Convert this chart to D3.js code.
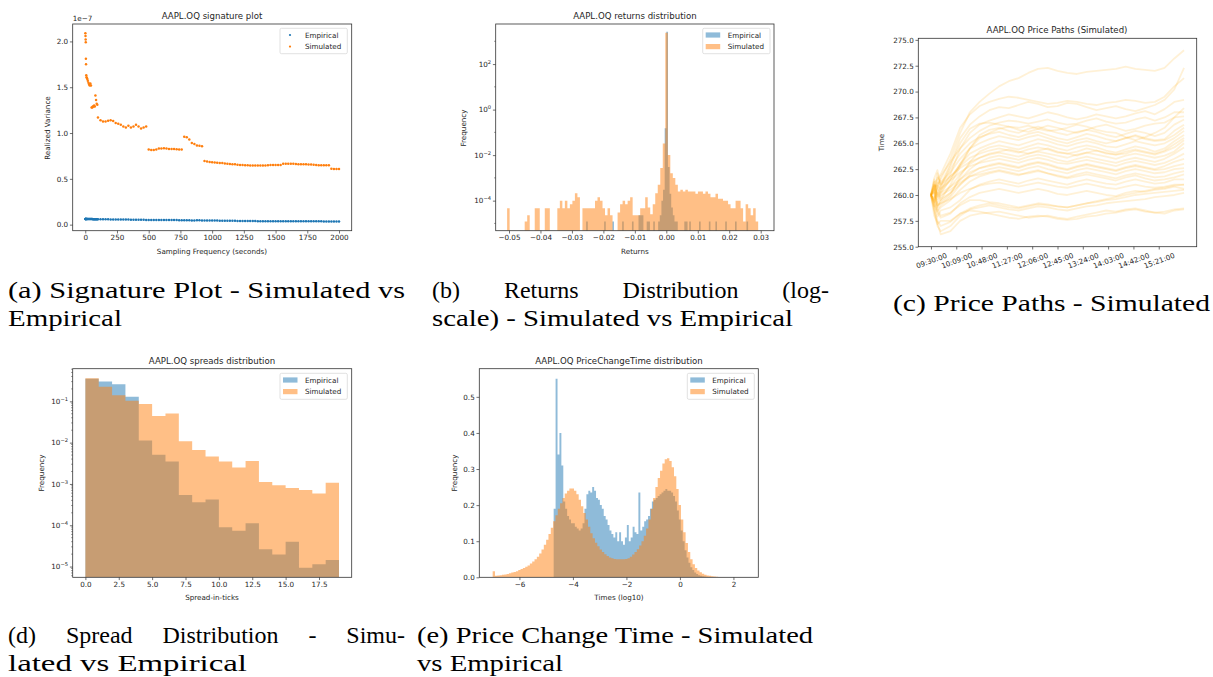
<!DOCTYPE html>
<meta charset="utf-8">
<style>
  body { margin: 0; background: white; }
  svg text.sans { font-family: "DejaVu Sans", sans-serif; }
  svg text.cap { font-family: "Liberation Serif", "Tinos", "Times New Roman", Times, serif; }
</style>
<body>
<script src="https://cdn.jsdelivr.net/npm/d3@7"></script>
<script>
// ---------- data ----------
// (a) signature plot, realized variance in units of 1e-7
const sigX = [1,2,3,4,5,6,8,10,13,16,20,25,30,35,40,45,50,55,60,65,70,75,80,85,90,95,100,
  120,140,160,180,200,220,240,260,280,300,320,340,360,380,400,420,440,460,480,
  500,520,540,560,580,600,620,640,660,680,700,720,740,760,
  780,800,820,840,860,880,900,920,
  940,960,980,1000,1020,1040,1060,1080,1100,1120,1140,1160,1180,1200,1220,1240,1260,1280,1300,1320,1340,1360,1380,1400,1420,1440,1460,1480,1500,1520,1540,
  1560,1580,1600,1620,1640,1660,1680,1700,1720,1740,1760,1780,1800,1820,1840,1860,1880,1900,1920,
  1940,1960,1980,2000];
const sigSim = [2.09,2.06,2.02,1.99,1.81,1.75,1.63,1.61,1.60,1.59,1.57,1.55,1.53,1.52,1.54,1.52,1.28,1.28,1.29,1.29,1.30,1.29,1.41,1.36,1.32,1.31,1.17,
  1.14,1.125,1.125,1.135,1.14,1.13,1.11,1.10,1.09,1.07,1.06,1.08,1.06,1.07,1.09,1.07,1.05,1.06,1.07,
  0.82,0.815,0.815,0.82,0.83,0.83,0.835,0.83,0.825,0.825,0.825,0.822,0.82,0.82,
  0.96,0.955,0.93,0.89,0.88,0.865,0.86,0.855,
  0.695,0.69,0.685,0.68,0.678,0.676,0.674,0.672,0.668,0.665,0.662,0.66,0.658,0.655,0.652,0.65,0.648,0.647,0.646,0.645,0.645,0.645,0.645,0.646,0.646,0.648,0.65,0.652,0.652,0.652,0.652,
  0.664,0.666,0.665,0.665,0.664,0.662,0.66,0.66,0.658,0.658,0.657,0.656,0.655,0.65,0.648,0.648,0.648,0.647,0.647,
  0.61,0.608,0.607,0.607];
const sigEmp = [0.063,0.063,0.062,0.062,0.062,0.062,0.062,0.062,0.062,0.062,0.062,0.061,0.061,0.061,0.061,0.061,0.061,0.061,0.060,0.060,0.060,0.060,0.060,0.060,0.060,0.060,0.060,
  0.059,0.059,0.058,0.058,0.057,0.057,0.056,0.056,0.056,0.055,0.055,0.055,0.054,0.054,0.054,0.054,0.053,0.053,0.052,
  0.052,0.051,0.051,0.052,0.052,0.051,0.051,0.052,0.051,0.050,0.050,0.050,0.049,0.049,
  0.048,0.048,0.047,0.046,0.046,0.047,0.047,0.046,
  0.046,0.046,0.045,0.044,0.044,0.044,0.043,0.043,0.043,0.042,0.042,0.042,0.042,0.041,0.041,0.041,0.041,0.040,0.040,0.040,0.039,0.038,0.037,0.037,0.037,0.038,0.038,0.038,0.038,0.038,0.038,
  0.036,0.036,0.036,0.036,0.036,0.036,0.036,0.036,0.036,0.036,0.036,0.036,0.036,0.036,0.036,0.036,0.035,0.035,0.035,
  0.035,0.035,0.035,0.035];
const sigTicksX = [0,250,500,750,1000,1250,1500,1750,2000];
const sigTicksY = [0,0.5,1,1.5,2];

// (b) returns distribution, density per bin (log scale)
const retSimStart = -0.0506, retSimWidth = 0.000798;
const retSim = [4.6e-5,0,0,0,0,0,0,1.2e-5,2.3e-5,0,
  0,4.6e-5,4.6e-5,0,0,4.6e-5,4.6e-5,0,0,0,
  4.6e-5,1e-4,4.6e-5,1e-4,4.6e-5,7e-5,1e-4,2.1e-4,1.4e-4,0,
  4.6e-5,4.6e-5,4.6e-5,4.6e-5,4.6e-5,1e-4,1.4e-4,1e-4,4.6e-5,2.3e-5,
  4.6e-5,2.3e-5,0,0,3e-5,7e-5,1e-4,7e-5,1e-4,1.4e-4,
  2.3e-5,2.3e-5,2.3e-5,4.6e-5,4.6e-5,1.4e-4,5e-5,2.5e-5,7e-5,2.1e-4,
  5e-4,2.7e-3,0.032,2400,0.01,1.6e-3,1e-3,5e-4,2.5e-4,3e-4,
  2.5e-4,3e-4,2.5e-4,2.5e-4,2.5e-4,2e-4,2.5e-4,2.5e-4,2e-4,2.5e-4,
  2e-4,1.4e-4,1.4e-4,2e-4,1.2e-4,1.2e-4,1e-4,1e-4,7e-5,4.6e-5,
  4.6e-5,1e-4,1e-4,4.6e-5,1.2e-5,7e-5,4.6e-5,2.3e-5,4.6e-5,1.2e-5];
const retEmpStart = -0.026, retEmpWidth = 0.00052;
const retEmp = [0,1.2e-5,0,0,0,0,0,0,0,0,
  0,0,1.2e-5,0,0,0,0,1.2e-5,0,0,
  0,0,0,1.2e-5,0,0,0,0,0,1.2e-5,
  0,0,0,2.3e-5,2.3e-5,2.3e-5,0,0,1.2e-5,1.2e-5,
  0,0,1.2e-5,0,0,1.2e-5,2.3e-5,1e-4,3e-4,0.15,
  2600,3e-3,2e-4,5e-5,2.3e-5,1.2e-5,1.2e-5,0,0,0,
  0,1.2e-5,1.2e-5,0,1.2e-5,0,0,0,0,0,
  1.2e-5,0,0,0,0,0,1.2e-5,0,0,0,
  1.2e-5,0,0,0,0,0,1.2e-5,0,0,0,
  0,0,1.2e-5,0,0,0,0,0,0,1.2e-5];
const retTicksX = [-0.05,-0.04,-0.03,-0.02,-0.01,0,0.01,0.02,0.03];
const retTicksY = [1e-4,1e-2,1,1e2];

// (c) simulated price paths, minutes after 09:30
const pathTimes = [0,5,10,15,30,45,60,75,90,105,120,135,150,165,180,195,210,225,240,255,270,285,300,315,330,345,360,375,390];
const pricePaths = [
  [260,260.8,261.0,261.5,263.5,266,268,269,269.8,270.5,271,271.3,271.8,272.2,272.3,272,271.8,271.7,271.9,272,272.1,272.2,272.4,272.2,272.1,272,272.3,273.2,274],
  [260,261.2,261.5,262,264,266.5,267.8,268.6,269,269.3,269.5,269.4,269.2,269,268.8,268.9,269.1,269,268.8,268.7,268.9,269,269.2,269.1,268.9,269,269.5,270.5,271.3],
  [260,260.5,261.3,261,263,265.5,266.8,267.6,268.2,268.5,268.4,268.7,269,268.8,268.5,268.6,268.9,268.8,268.5,268.2,268.4,268.6,268.3,268.1,268.4,268.7,269.2,270.2,272.3],
  [260,259.6,260.9,260.5,262,264.5,266,266.8,267.2,267.5,267.8,267.6,267.4,267.7,268,267.8,267.5,267.3,267.5,267.8,267.6,267.4,267.6,267.9,268.1,267.8,268.3,269,269.2],
  [260,261.0,260.7,261.8,263.2,264.5,265.5,266.2,266.7,267,267.2,267.1,266.9,267.1,267.3,267,266.8,266.9,267.2,267.4,267.1,266.9,267,267.3,267.5,267.2,267.5,268,268],
  [260,260.9,259.8,260.3,261.5,263,264.5,265.5,266,266.4,266.6,266.3,266.1,266.4,266.7,266.5,266.2,266,266.3,266.6,266.8,266.5,266.2,266.4,266.7,266.9,267,267.5,267.6],
  [260,259.3,260.2,259.5,261,262.8,264.5,265.8,266.3,266.5,266.2,266,266.4,266.6,266.3,266,265.8,266.1,266.3,266.1,265.8,265.6,265.9,266.2,266,265.7,266,266.8,267.3],
  [260,261.3,260.1,260.8,262.5,264,265,265.6,265.9,266.1,265.8,265.6,265.9,266.1,265.8,265.5,265.3,265.6,265.9,265.7,265.4,265.2,265.5,265.8,265.5,265.3,265.4,266.2,266.8],
  [260,260.2,261.7,261.2,262.2,263.5,264.5,265,265.4,265.7,265.5,265.3,265.6,265.8,265.5,265.2,265,265.3,265.5,265.2,265,265.2,265.5,265.7,265.4,265.2,265.3,265.8,266.5],
  [260,259.5,260.8,260.2,261.5,263,264,264.5,264.9,265.2,265,264.8,265.1,265.4,265.2,264.9,264.7,265,265.2,265,264.7,264.6,264.9,265.2,265,264.8,265,265.5,266.2],
  [260,260.4,259.0,259.2,260,261.8,263.2,264.2,264.6,264.8,264.6,264.4,264.7,265,264.8,264.5,264.3,264.6,264.8,264.6,264.3,264.1,264.4,264.7,264.5,264.2,264.5,265.2,265.8],
  [260,261.0,259.9,260.5,261.8,262.8,263.6,264,264.3,264.5,264.3,264.1,264.4,264.6,264.4,264.1,264,264.2,264.5,264.3,264,263.9,264.2,264.4,264.2,264,264.3,264.9,265.5],
  [260,258.9,260.6,259.8,260.8,262,263,263.6,264,264.2,264.4,264.2,264,264.3,264.5,264.2,264,263.8,264.1,264.3,264.1,263.9,264,264.3,264.1,263.9,264.2,264.6,265.3],
  [260,260.3,262.1,261,261.8,262.6,263.2,263.6,263.9,264.1,263.9,263.7,264,264.2,264,263.8,263.6,263.9,264.1,263.9,263.7,263.5,263.8,264,263.8,263.6,263.8,264.2,265],
  [260,260.6,258.8,259.4,260.2,261.5,262.5,263.2,263.6,263.8,263.6,263.4,263.7,263.9,263.7,263.4,263.2,263.5,263.7,263.5,263.3,263.1,263.4,263.6,263.4,263.2,263.5,264,264.6],
  [260,259.4,261.2,260.6,261.4,262.2,262.8,263.1,263.3,263.5,263.3,263.1,263.4,263.6,263.4,263.1,263,263.2,263.4,263.2,263,262.8,263.1,263.3,263.1,262.9,263.1,263.5,264],
  [260,259.8,258.6,259,259.8,261,262,262.6,262.9,263.1,262.9,262.7,263,263.2,263,262.7,262.5,262.8,263,262.8,262.6,262.4,262.7,262.9,262.7,262.5,262.8,263.2,263.5],
  [260,261.5,259.6,260.2,260.8,261.5,262.2,262.6,262.8,263,262.8,262.6,262.9,263.1,262.9,262.6,262.4,262.7,262.9,262.7,262.5,262.3,262.6,262.8,262.6,262.4,262.5,262.8,263],
  [260,260.5,258.9,259.6,260.2,261,261.8,262.2,262.5,262.7,262.5,262.3,262.6,262.8,262.5,262.3,262.1,262.4,262.6,262.4,262.2,262,262.3,262.5,262.3,262.1,262.2,262.5,262.6],
  [260,259.2,258.4,258.8,259.5,260.5,261.3,261.8,262.1,262.3,262.1,261.9,262.2,262.4,262.1,261.9,261.7,262,262.2,262,261.8,261.6,261.9,262.1,261.9,261.7,261.8,262.1,262.3],
  [260,260.9,259.3,260,260.5,261.2,261.8,262,262.2,262.4,262.2,262,262.1,262.3,262.1,261.8,261.6,261.8,262,261.8,261.6,261.4,261.7,261.9,261.6,261.4,261.5,261.7,262],
  [260,259.3,257.9,258.5,258.8,259.5,260.5,261,261.3,261.5,261.3,261.1,261.4,261.6,261.4,261.2,261,261.3,261.5,261.3,261.1,261,261.3,261.5,261.3,261.1,261.2,261.5,261.5],
  [260,260.2,259.0,259.2,259.6,260.2,260.6,260.9,261.1,261.2,261,260.8,261,261.2,261,260.8,260.7,260.9,261.1,260.9,260.7,260.6,260.8,261,260.8,260.7,260.8,261,261],
  [260,259.0,258.3,257.8,258.2,259.2,259.8,260.2,260.4,260.6,260.4,260.2,260.4,260.6,260.4,260.1,260,260.2,260.4,260.2,260,259.9,260.2,260.4,260.3,260.5,260.6,260.8,260.6],
  [260,258.6,257.2,257.5,257.5,258.2,258.7,259,259.2,259,258.8,258.7,258.9,259.1,259,258.9,258.8,259,259.2,259.3,259.5,259.6,259.8,260,260.1,260.2,260.3,260.4,260.5],
  [260,258.4,257.0,256.5,257,258,258.6,258.8,259,258.8,258.6,258.5,258.7,258.9,258.8,258.6,258.5,258.7,258.9,259,259.2,259.3,259.4,259.5,259.6,259.8,259.9,260,260.2],
  [260,258.0,257.3,256.2,256.5,257.5,258,258.2,258.3,258.4,258.2,258,257.8,257.9,258,257.8,257.7,257.9,258.1,258.3,258.5,258.4,258.6,258.7,258.5,258.3,258.4,258.6,258.7],
  [260,258.7,257.5,257,257.4,258.2,258.5,258.4,258.2,258,257.8,257.7,257.9,258,257.9,257.7,257.6,257.7,257.9,258,258.2,258.3,258.5,258.6,258.4,258.3,258.2,258.5,258.6],
  [260,259.5,258.6,258,258.3,259,259.5,259.5,259.3,259.2,259,258.8,259,259.2,259.1,258.9,258.8,259,259.2,259.4,259.6,259.8,260,260.2,260.4,260.6,260.7,260.9,261],
  [260,261.6,262.4,260.8,262.8,265,266.4,266.9,267,266.8,266.6,266.5,266.7,266.4,266.2,266.3,266.5,266.8,266.6,266.3,266.1,266,265.6,265.3,265.6,266,266.5,267.5,268.4]
];
const pathTickMinutes = [0,39,78,117,156,195,234,273,312,351];
const pathTickLabels = ['09:30:00','10:09:00','10:48:00','11:27:00','12:06:00','12:45:00','13:24:00','14:03:00','14:42:00','15:21:00'];
const pathTicksY = [255,257.5,260,262.5,265,267.5,270,272.5,275];

// (d) spread distribution, bins of one tick from 0 to 19
const spreadEdges0 = 0, spreadWidth = 1;
const spreadEmp = [0.35,0.30,0.26,0.13,0.0112,0.0051,0.0035,0.00054,0.00036,0.00042,0.000089,0.000074,0.000112,0.0000263,0.0000195,0.00004,0.0000093,0.0000113,0.0000145];
const spreadSim = [0.36,0.226,0.14,0.104,0.086,0.044,0.051,0.0108,0.0066,0.0046,0.0035,0.0025,0.0036,0.00112,0.00093,0.0008,0.00071,0.00059,0.00107];
const spreadTicksX = [0,2.5,5,7.5,10,12.5,15,17.5];
const spreadTicksY = [1e-5,1e-4,1e-3,1e-2,1e-1];

// (e) price change time distribution (log10 seconds)
const pctSimStart = -7.0, pctSimWidth = 0.0869;
const pctSim = [0.017,0.004,0.005,0.006,0.007,0.008,0.009,0.011,0.013,0.015,
  0.017,0.020,0.023,0.026,0.029,0.033,0.038,0.044,0.05,0.057,
  0.066,0.077,0.09,0.104,0.12,0.137,0.155,0.172,0.19,0.205,
  0.22,0.232,0.24,0.246,0.246,0.24,0.23,0.215,0.197,0.178,
  0.16,0.14,0.122,0.108,0.096,0.086,0.077,0.07,0.064,0.059,
  0.055,0.053,0.051,0.05,0.05,0.05,0.05,0.051,0.053,0.057,
  0.063,0.07,0.078,0.088,0.1,0.115,0.135,0.16,0.19,0.22,
  0.25,0.275,0.295,0.315,0.327,0.33,0.322,0.305,0.28,0.245,
  0.2,0.16,0.125,0.095,0.07,0.05,0.036,0.026,0.019,0.014,
  0.01,0.007,0.005,0.004,0.003,0.002,0.0015,0.001,0.0008,0.0005];
const pctEmpStart = -4.72, pctEmpWidth = 0.072;
const pctEmp = [0.19,0.55,0.34,0.40,0.31,0.21,0.19,0.17,0.16,0.15,
  0.15,0.14,0.135,0.13,0.135,0.15,0.19,0.23,0.24,0.235,
  0.25,0.24,0.22,0.215,0.2,0.19,0.17,0.16,0.145,0.13,
  0.12,0.11,0.125,0.10,0.125,0.10,0.09,0.11,0.145,0.10,
  0.11,0.14,0.125,0.12,0.235,0.13,0.14,0.155,0.16,0.17,
  0.19,0.21,0.215,0.22,0.225,0.23,0.235,0.24,0.245,0.24,
  0.24,0.235,0.225,0.21,0.185,0.16,0.13,0.10,0.075,0.055,
  0.04,0.028,0.02,0.013,0.009,0.006,0.004,0.003,0.002,0.0015,
  0.001,0.0008,0.0006,0.0005,0.0004,0.0003,0.0002,0.0002,0.0001,0.0001,
  0,0,0,0,0,0,0,0,0,0.0001];
const pctTicksX = [-6,-4,-2,0,2];
const pctTicksY = [0,0.1,0.2,0.3,0.4,0.5];

// ---------- drawing ----------
const W = 1213, H = 677;
const BLUE = '#1f77b4', ORANGE = '#ff7f0e';
const TXT = '#262626';
const svg = d3.select('body').append('svg').attr('width', W).attr('height', H).style('display', 'block');
svg.append('rect').attr('width', W).attr('height', H).attr('fill', 'white');

let clipCount = 0;
function makePanel(box) {
  const id = 'clip' + clipCount++;
  svg.append('clipPath').attr('id', id).append('rect')
    .attr('x', box.l).attr('y', box.t).attr('width', box.r - box.l).attr('height', box.b - box.t);
  const g = svg.append('g');
  const plot = g.append('g').attr('clip-path', `url(#${id})`);
  return {g, plot};
}
function frame(g, box) {
  g.append('rect').attr('x', box.l).attr('y', box.t)
    .attr('width', box.r - box.l).attr('height', box.b - box.t)
    .attr('fill', 'none').attr('stroke', '#333').attr('stroke-width', 0.8);
}
function styleAxis(ax) {
  ax.attr('font-family', null).attr('font-size', null);
  ax.select('.domain').remove();
  ax.selectAll('.tick line').attr('stroke', '#333').attr('stroke-width', 0.7);
  ax.selectAll('.tick text').attr('class', 'sans').attr('fill', TXT).style('font-size', '7.2px');
}
function bottomAxis(g, x, y0, ticks, fmt) {
  const ax = g.append('g').attr('transform', `translate(0,${y0})`)
    .call(d3.axisBottom(x).tickValues(ticks).tickFormat(fmt).tickSize(2.8).tickPadding(1.8));
  styleAxis(ax);
  return ax;
}
function leftAxis(g, y, x0, ticks, fmt) {
  const ax = g.append('g').attr('transform', `translate(${x0},0)`)
    .call(d3.axisLeft(y).tickValues(ticks).tickFormat(fmt).tickSize(2.8).tickPadding(1.8));
  styleAxis(ax);
  return ax;
}
function minorTicks(g, y, x0, vals) {
  g.selectAll(null).data(vals).enter().append('line')
    .attr('x1', x0).attr('x2', x0 - 1.6).attr('y1', d => y(d)).attr('y2', d => y(d))
    .attr('stroke', '#333').attr('stroke-width', 0.5);
}
function powLabels(ax) {
  ax.selectAll('.tick text').each(function(d) {
    const e = Math.round(Math.log10(d));
    const t = d3.select(this).text('10');
    t.append('tspan').attr('dy', -3.2).style('font-size', '5.2px').text(e < 0 ? '\u2212' + (-e) : String(e));
  });
}
function sansText(g) {
  return g.append('text').attr('class', 'sans').attr('fill', TXT);
}
function title(g, x, y, s) {
  sansText(g).attr('x', x).attr('y', y).attr('text-anchor', 'middle').style('font-size', '8.6px').text(s);
}
function xlabel(g, x, y, s) {
  sansText(g).attr('x', x).attr('y', y).attr('text-anchor', 'middle').style('font-size', '7.2px').text(s);
}
function ylabel(g, x, y, s) {
  sansText(g).attr('transform', `translate(${x},${y}) rotate(-90)`)
    .attr('text-anchor', 'middle').attr('dominant-baseline', 'central')
    .style('font-size', '7.2px').text(s);
}
function histPath(plot, x, y, start, width, values, color) {
  const base = y.range()[0];
  let d = '';
  values.forEach((v, i) => {
    if (v <= 0) return;
    const x0 = x(start + i * width), x1 = x(start + (i + 1) * width);
    d += `M${x0},${base}V${y(v)}H${x1}V${base}Z`;
  });
  plot.append('path').attr('d', d).attr('fill', color).attr('fill-opacity', 0.5);
}
function legend(g, bx, by, bw, bh, kind) {
  g.append('rect').attr('x', bx).attr('y', by).attr('width', bw).attr('height', bh).attr('rx', 1.5)
    .attr('fill', 'white').attr('fill-opacity', 0.8).attr('stroke', '#d4d4d4').attr('stroke-width', 0.7);
  [['Empirical', BLUE], ['Simulated', ORANGE]].forEach(([name, c], i) => {
    const cy = by + 6.7 + i * 11.6;
    if (kind === 'dot') {
      g.append('circle').attr('cx', bx + 10).attr('cy', cy).attr('r', 1.1).attr('fill', c);
    } else {
      g.append('rect').attr('x', bx + 3).attr('y', cy - 2.6).attr('width', 14.5).attr('height', 5.2)
        .attr('fill', c).attr('fill-opacity', 0.5);
    }
    sansText(g).attr('x', bx + 25).attr('y', cy).attr('dominant-baseline', 'central')
      .style('font-size', '7.2px').text(name);
  });
}

// ---- (a) signature plot ----
{
  const box = {l: 72.7, r: 351.7, t: 24, b: 230.7};
  const {g, plot} = makePanel(box);
  const x = d3.scaleLinear().domain([-99, 2100]).range([box.l, box.r]);
  const y = d3.scaleLinear().domain([-0.066, 2.19]).range([box.b, box.t]);
  plot.selectAll(null).data(sigX).enter().append('circle')
    .attr('cx', d => x(d)).attr('cy', (d, i) => y(sigEmp[i])).attr('r', 1.25).attr('fill', BLUE);
  plot.selectAll(null).data(sigX).enter().append('circle')
    .attr('cx', d => x(d)).attr('cy', (d, i) => y(sigSim[i])).attr('r', 1.25).attr('fill', ORANGE);
  frame(g, box);
  bottomAxis(g, x, box.b, sigTicksX, d3.format('d'));
  leftAxis(g, y, box.l, sigTicksY, d3.format('.1f'));
  sansText(g).attr('x', box.l).attr('y', 21).style('font-size', '7.2px').text('1e\u22127');
  title(g, 212, 18.8, 'AAPL.OQ signature plot');
  xlabel(g, 212, 253.6, 'Sampling Frequency (seconds)');
  ylabel(g, 47.7, 128, 'Realized Variance');
  legend(g, 280, 28.3, 67.3, 25.4, 'dot');
}

// ---- (b) returns distribution ----
{
  const box = {l: 495.7, r: 774, t: 24, b: 230.7};
  const {g, plot} = makePanel(box);
  const x = d3.scaleLinear().domain([-0.05423, 0.03423]).range([box.l, box.r]);
  const y = d3.scaleLog().domain([Math.pow(10, -5.32), Math.pow(10, 3.76)]).range([box.b, box.t]);
  histPath(plot, x, y, retEmpStart, retEmpWidth, retEmp, BLUE);
  histPath(plot, x, y, retSimStart, retSimWidth, retSim, ORANGE);
  frame(g, box);
  bottomAxis(g, x, box.b, retTicksX, d3.format('.2f'));
  powLabels(leftAxis(g, y, box.l, retTicksY, d => d));
  minorTicks(g, y, box.l, [1e-5, 1e-3, 1e-1, 1e1, 1e3]);
  title(g, 634.9, 18.8, 'AAPL.OQ returns distribution');
  xlabel(g, 634.9, 253.6, 'Returns');
  ylabel(g, 463.3, 128, 'Frequency');
  legend(g, 702.7, 28.3, 67.3, 25.4, 'patch');
}

// ---- (c) price paths ----
{
  const box = {l: 918.3, r: 1196.7, t: 38.3, b: 246.7};
  const {g, plot} = makePanel(box);
  const x = d3.scaleLinear().domain([-19.5, 409.5]).range([box.l, box.r]);
  const y = d3.scaleLinear().domain([255.0, 275.15]).range([box.b, box.t]);
  const line = d3.line().x((d, i) => x(pathTimes[i])).y(d => y(d));
  plot.selectAll(null).data(pricePaths).enter().append('path')
    .attr('d', line).attr('fill', 'none').attr('stroke', 'orange')
    .attr('stroke-opacity', 0.16).attr('stroke-width', 1.8).attr('stroke-linejoin', 'round');
  frame(g, box);
  const ax = bottomAxis(g, x, box.b, pathTickMinutes, (d, i) => pathTickLabels[i]);
  ax.selectAll('.tick text')
    .attr('y', null).attr('dy', null)
    .attr('text-anchor', 'middle').attr('dominant-baseline', 'central')
    .attr('transform', 'translate(0,14) rotate(-20)');
  leftAxis(g, y, box.l, pathTicksY, d3.format('.1f'));
  title(g, 1057, 33, 'AAPL.OQ Price Paths (Simulated)');
  ylabel(g, 881.7, 142.5, 'Time');
  svg.append('clipPath').attr('id', 'clipPrice').append('rect').attr('x', 900).attr('y', 0).attr('width', 313).attr('height', 275.5);
  sansText(g).attr('clip-path', 'url(#clipPrice)').attr('x', 1057).attr('y', 281.5)
    .attr('text-anchor', 'middle').style('font-size', '7.2px').text('Price');
}

// ---- (d) spread distribution ----
{
  const box = {l: 72.7, r: 351.7, t: 368.7, b: 577.3};
  const {g, plot} = makePanel(box);
  const x = d3.scaleLinear().domain([-0.95, 19.95]).range([box.l, box.r]);
  const y = d3.scaleLog().domain([Math.pow(10, -5.26), Math.pow(10, -0.21)]).range([box.b, box.t]);
  histPath(plot, x, y, spreadEdges0, spreadWidth, spreadEmp, BLUE);
  histPath(plot, x, y, spreadEdges0, spreadWidth, spreadSim, ORANGE);
  frame(g, box);
  bottomAxis(g, x, box.b, spreadTicksX, d3.format('.1f'));
  powLabels(leftAxis(g, y, box.l, spreadTicksY, d => d));
  const minors = [];
  [-6, -5, -4, -3, -2, -1].forEach(k => { for (let m = 2; m <= 9; m++) minors.push(m * Math.pow(10, k)); });
  minorTicks(g, y, box.l, minors.filter(v => v >= y.domain()[0] && v <= y.domain()[1]));
  title(g, 212, 364, 'AAPL.OQ spreads distribution');
  xlabel(g, 212, 600, 'Spread-in-ticks');
  ylabel(g, 41.7, 473, 'Frequency');
  legend(g, 280, 373.3, 67.3, 26, 'patch');
}

// ---- (e) price change time distribution ----
{
  const box = {l: 479.3, r: 758.3, t: 368.7, b: 577.3};
  const {g, plot} = makePanel(box);
  const x = d3.scaleLinear().domain([-7.5, 2.93]).range([box.l, box.r]);
  const y = d3.scaleLinear().domain([0, 0.578]).range([box.b, box.t]);
  histPath(plot, x, y, pctEmpStart, pctEmpWidth, pctEmp, BLUE);
  histPath(plot, x, y, pctSimStart, pctSimWidth, pctSim, ORANGE);
  frame(g, box);
  bottomAxis(g, x, box.b, pctTicksX, d3.format('d'));
  leftAxis(g, y, box.l, pctTicksY, d3.format('.1f'));
  title(g, 619, 364, 'AAPL.OQ PriceChangeTime distribution');
  xlabel(g, 619, 600, 'Times (log10)');
  ylabel(g, 454.3, 473, 'Frequency');
  legend(g, 687.3, 373.3, 67, 26, 'patch');
}

// ---------- captions ----------
function capText() {
  return svg.append('text').attr('class', 'cap').style('font-size', '24px').attr('fill', '#000');
}
function capLine(s, x0, x1, y) {
  capText().attr('x', x0).attr('y', y)
    .attr('textLength', x1 - x0).attr('lengthAdjust', 'spacingAndGlyphs').text(s);
}
function capJustify(s, x0, x1, y) {
  const words = s.split(' ');
  const nodes = words.map(w => capText().attr('y', y).text(w));
  const widths = nodes.map(n => n.node().getComputedTextLength());
  const gap = (x1 - x0 - d3.sum(widths)) / (words.length - 1);
  let cx = x0;
  nodes.forEach((n, i) => { n.attr('x', cx); cx += widths[i] + gap; });
}
capLine('(a) Signature Plot - Simulated vs', 8, 405, 298);
capLine('Empirical', 8, 122, 326);
capJustify('(b) Returns Distribution (log-', 432, 829, 298);
capLine('scale) - Simulated vs Empirical', 432, 793, 326);
capLine('(c) Price Paths - Simulated', 893, 1210, 311);
capJustify('(d) Spread Distribution - Simu-', 8, 405, 643);
capLine('lated vs Empirical', 8, 247, 671);
capLine('(e) Price Change Time - Simulated', 417, 813, 643);
capLine('vs Empirical', 417, 563, 671);
</script>
</body>
